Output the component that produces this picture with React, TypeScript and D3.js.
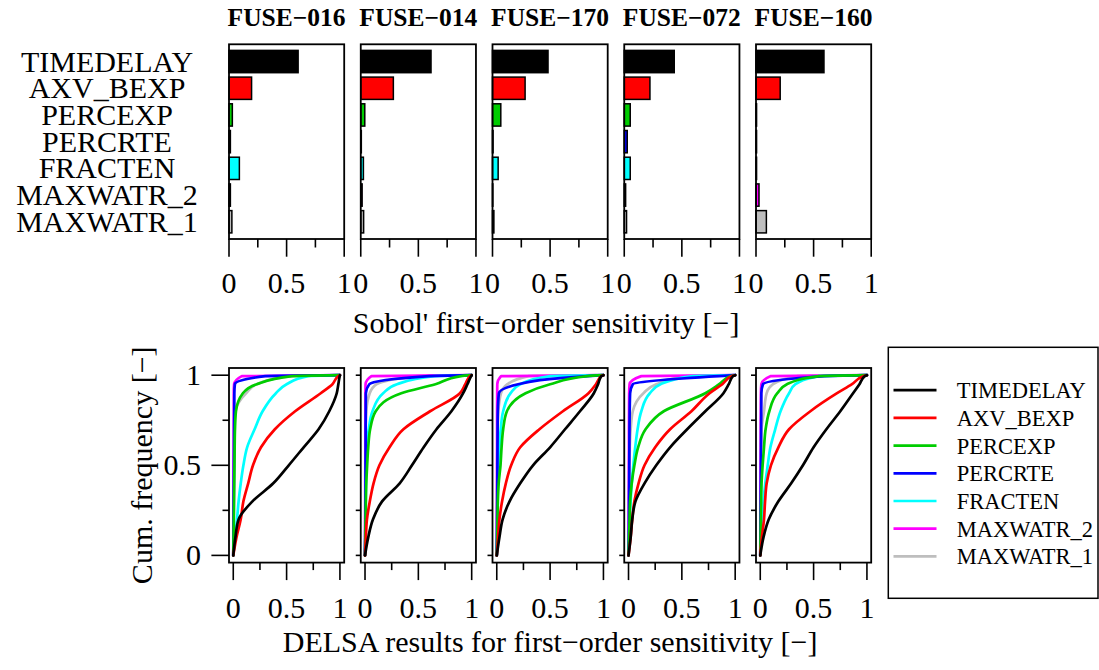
import React from "react";
import * as d3 from "d3";

const PARAMS = ["TIMEDELAY", "AXV_BEXP", "PERCEXP", "PERCRTE", "FRACTEN", "MAXWATR_2", "MAXWATR_1"];
const COLORS = ["#000000", "#FF0000", "#00CD00", "#0000FF", "#00FFFF", "#FF00FF", "#BEBEBE"];
const CATCHMENTS = ["FUSE−016", "FUSE−014", "FUSE−170", "FUSE−072", "FUSE−160"];

// Sobol' first-order indices per catchment (order of PARAMS)
const SOBOL_016 = [0.6, 0.196, 0.029, 0.012, 0.09, 0.012, 0.025];
const SOBOL_014 = [0.61, 0.283, 0.035, 0.005, 0.023, 0.012, 0.025];
const SOBOL_170 = [0.482, 0.283, 0.072, 0.005, 0.049, 0.003, 0.012];
const SOBOL_072 = [0.434, 0.223, 0.052, 0.026, 0.052, 0.012, 0.02];
const SOBOL_160 = [0.59, 0.21, 0.005, 0.005, 0.005, 0.026, 0.09];
const SOBOL = [SOBOL_016, SOBOL_014, SOBOL_170, SOBOL_072, SOBOL_160];

// cumulative frequency levels; each DELSA row gives the sensitivity value reached at those levels
const CDF_LEVELS = [0, 0.1, 0.2, 0.3, 0.4, 0.5, 0.6, 0.7, 0.8, 0.9, 0.95, 0.995, 1];

const DELSA_016 = [
  [0, 0.02, 0.05, 0.18, 0.375, 0.52, 0.66, 0.8, 0.9, 0.97, 0.985, 0.998, 1],
  [0, 0.03, 0.07, 0.095, 0.14, 0.185, 0.26, 0.39, 0.58, 0.82, 0.93, 0.985, 1],
  [0, 0.003, 0.005, 0.007, 0.009, 0.011, 0.013, 0.016, 0.025, 0.09, 0.22, 0.55, 1],
  [0, 0.002, 0.003, 0.004, 0.005, 0.006, 0.007, 0.008, 0.009, 0.01, 0.015, 0.3, 1],
  [0, 0.017, 0.035, 0.05, 0.07, 0.095, 0.13, 0.2, 0.275, 0.4, 0.5, 0.7, 1],
  [0, 0.001, 0.002, 0.002, 0.003, 0.003, 0.004, 0.004, 0.005, 0.005, 0.008, 0.08, 1],
  [0, 0.003, 0.005, 0.006, 0.007, 0.008, 0.009, 0.01, 0.02, 0.12, 0.22, 0.55, 1],
];
const DELSA_014 = [
  [0, 0.03, 0.075, 0.16, 0.325, 0.44, 0.55, 0.67, 0.81, 0.92, 0.96, 0.995, 1],
  [0, 0.008, 0.018, 0.045, 0.08, 0.135, 0.23, 0.36, 0.61, 0.89, 0.94, 0.985, 1],
  [0, 0.003, 0.005, 0.008, 0.012, 0.02, 0.03, 0.048, 0.1, 0.34, 0.66, 0.9, 1],
  [0, 0.002, 0.003, 0.004, 0.005, 0.005, 0.006, 0.006, 0.007, 0.008, 0.04, 0.6, 1],
  [0, 0.002, 0.004, 0.006, 0.008, 0.01, 0.015, 0.035, 0.07, 0.17, 0.3, 0.65, 1],
  [0, 0.001, 0.001, 0.002, 0.002, 0.003, 0.003, 0.003, 0.004, 0.004, 0.005, 0.06, 1],
  [0, 0.002, 0.003, 0.004, 0.004, 0.005, 0.005, 0.006, 0.012, 0.044, 0.11, 0.5, 1],
];
const DELSA_170 = [
  [0, 0.025, 0.055, 0.12, 0.22, 0.34, 0.5, 0.64, 0.78, 0.91, 0.95, 0.98, 1],
  [0, 0.012, 0.025, 0.05, 0.085, 0.135, 0.22, 0.4, 0.62, 0.86, 0.93, 0.98, 1],
  [0, 0.004, 0.007, 0.01, 0.018, 0.035, 0.045, 0.06, 0.095, 0.27, 0.5, 0.85, 1],
  [0, 0.002, 0.003, 0.004, 0.005, 0.006, 0.007, 0.008, 0.01, 0.02, 0.2, 0.85, 1],
  [0, 0.003, 0.005, 0.007, 0.01, 0.015, 0.025, 0.037, 0.06, 0.13, 0.22, 0.5, 1],
  [0, 0.001, 0.001, 0.002, 0.002, 0.002, 0.003, 0.003, 0.003, 0.004, 0.005, 0.04, 1],
  [0, 0.002, 0.003, 0.004, 0.005, 0.006, 0.007, 0.009, 0.015, 0.04, 0.1, 0.3, 1],
];
const DELSA_072 = [
  [0, 0.02, 0.035, 0.065, 0.15, 0.26, 0.39, 0.55, 0.72, 0.89, 0.94, 0.98, 1],
  [0, 0.02, 0.035, 0.055, 0.094, 0.15, 0.25, 0.39, 0.59, 0.76, 0.88, 0.97, 1],
  [0, 0.005, 0.01, 0.015, 0.03, 0.055, 0.09, 0.16, 0.33, 0.72, 0.85, 0.96, 1],
  [0, 0.003, 0.004, 0.005, 0.006, 0.007, 0.008, 0.009, 0.011, 0.015, 0.04, 0.85, 1],
  [0, 0.005, 0.01, 0.02, 0.03, 0.045, 0.063, 0.085, 0.12, 0.2, 0.3, 0.6, 1],
  [0, 0.001, 0.002, 0.002, 0.003, 0.003, 0.004, 0.004, 0.005, 0.006, 0.01, 0.12, 1],
  [0, 0.003, 0.005, 0.006, 0.007, 0.009, 0.012, 0.02, 0.04, 0.14, 0.26, 0.55, 1],
];
const DELSA_160 = [
  [0, 0.03, 0.08, 0.17, 0.29, 0.4, 0.5, 0.62, 0.75, 0.87, 0.93, 0.98, 1],
  [0, 0.015, 0.035, 0.045, 0.06, 0.1, 0.17, 0.27, 0.47, 0.72, 0.86, 0.97, 1],
  [0, 0.003, 0.005, 0.008, 0.012, 0.022, 0.035, 0.05, 0.085, 0.16, 0.25, 0.55, 1],
  [0, 0.002, 0.003, 0.004, 0.005, 0.006, 0.007, 0.008, 0.009, 0.01, 0.025, 0.6, 1],
  [0, 0.01, 0.02, 0.03, 0.047, 0.07, 0.095, 0.14, 0.19, 0.27, 0.33, 0.55, 1],
  [0, 0.001, 0.002, 0.002, 0.003, 0.003, 0.004, 0.004, 0.005, 0.006, 0.01, 0.1, 1],
  [0, 0.002, 0.003, 0.004, 0.005, 0.006, 0.008, 0.012, 0.035, 0.06, 0.12, 0.35, 1],
];
const DELSA = [DELSA_016, DELSA_014, DELSA_170, DELSA_072, DELSA_160];

const X_TICKS = [0, 0.25, 0.5, 0.75, 1];
const X_LABELS = [0, 0.5, 1];

const FONT = "'Liberation Serif', 'Times New Roman', serif";

const W = 1099;
const H = 670;
const PANEL_LEFT = 229;
const PANEL_STEP = 131.75;
const PANEL_W = 115.2;
const TOP_T = 44.3;
const TOP_B = 239;
const BOT_T = 368;
const BOT_B = 562.6;

const fmt = (v: number) => (v === 0 ? "0" : v === 1 ? "1" : String(v));

function TopPanel({ idx }: { idx: number }) {
  const left = PANEL_LEFT + idx * PANEL_STEP;
  const x = d3.scaleLinear().domain([0, 1]).range([left, left + PANEL_W]);
  const y = d3
    .scaleBand<string>()
    .domain(PARAMS)
    .range([TOP_T, TOP_B])
    .paddingInner(0.165)
    .paddingOuter(0.228);
  const vals = SOBOL[idx];
  return (
    <g>
      <text
        x={left + PANEL_W / 2}
        y={26}
        textAnchor="middle"
        fontFamily={FONT}
        fontWeight="bold"
        fontSize={25.5}
      >
        {CATCHMENTS[idx]}
      </text>
      {PARAMS.map((p, i) => (
        <rect
          key={p}
          x={x(0)}
          y={y(p)!}
          width={Math.max(0, x(vals[i]) - x(0))}
          height={y.bandwidth()}
          fill={COLORS[i]}
          stroke="#000"
          strokeWidth={1.5}
        />
      ))}
      <rect
        x={left}
        y={TOP_T}
        width={PANEL_W}
        height={TOP_B - TOP_T}
        fill="none"
        stroke="#000"
        strokeWidth={1.8}
      />
      {X_TICKS.map((t) => {
        const major = X_LABELS.includes(t);
        return (
          <line
            key={t}
            x1={x(t)}
            x2={x(t)}
            y1={TOP_B}
            y2={TOP_B + (major ? 17.7 : 8.5)}
            stroke="#000"
            strokeWidth={1.6}
          />
        );
      })}
      {X_LABELS.map((t) => (
        <text key={t} x={x(t)} y={293.3} textAnchor="middle" fontFamily={FONT} fontSize={30}>
          {fmt(t)}
        </text>
      ))}
    </g>
  );
}

function BottomPanel({ idx }: { idx: number }) {
  const left = PANEL_LEFT + idx * PANEL_STEP;
  const x = d3.scaleLinear().domain([-0.04, 1.04]).range([left, left + PANEL_W]);
  const y = d3.scaleLinear().domain([-0.04, 1.04]).range([BOT_B, BOT_T]);
  const line = d3
    .line<number>()
    .x((d) => x(d))
    .y((_d, i) => y(CDF_LEVELS[i]))
    .curve(d3.curveMonotoneY);
  const curves = DELSA[idx];
  const order = PARAMS.map((_p, i) => i).reverse();
  return (
    <g>
      {order.map((i) => (
        <path
          key={PARAMS[i]}
          d={line(curves[i]) || ""}
          fill="none"
          stroke={COLORS[i]}
          strokeWidth={2.7}
          strokeLinejoin="round"
          strokeLinecap="round"
        />
      ))}
      <rect
        x={left}
        y={BOT_T}
        width={PANEL_W}
        height={BOT_B - BOT_T}
        fill="none"
        stroke="#000"
        strokeWidth={1.8}
      />
      {X_TICKS.map((t) => {
        const major = X_LABELS.includes(t);
        return (
          <line
            key={"x" + t}
            x1={x(t)}
            x2={x(t)}
            y1={BOT_B}
            y2={BOT_B + (major ? 17.5 : 7.5)}
            stroke="#000"
            strokeWidth={1.6}
          />
        );
      })}
      {X_LABELS.map((t) => (
        <text key={"xl" + t} x={x(t)} y={618.3} textAnchor="middle" fontFamily={FONT} fontSize={30}>
          {fmt(t)}
        </text>
      ))}
      {X_TICKS.map((t) => {
        const major = X_LABELS.includes(t);
        const len = idx === 0 ? (major ? 17.6 : 6.5) : 5;
        return (
          <line
            key={"y" + t}
            x1={left - len}
            x2={left}
            y1={y(t)}
            y2={y(t)}
            stroke="#000"
            strokeWidth={1.6}
          />
        );
      })}
      {idx === 0 &&
        X_LABELS.map((t) => (
          <text
            key={"yl" + t}
            x={201}
            y={y(t) + 10}
            textAnchor="end"
            fontFamily={FONT}
            fontSize={30}
          >
            {fmt(t)}
          </text>
        ))}
    </g>
  );
}

function Legend() {
  const x0 = 888.3;
  const y0 = 347.3;
  const ly = d3.scaleLinear().domain([0, 1]).range([390.2, 417.9]);
  return (
    <g>
      <rect
        x={x0}
        y={y0}
        width={1098 - x0}
        height={598.3 - y0}
        fill="#fff"
        stroke="#000"
        strokeWidth={1.5}
      />
      {PARAMS.map((p, i) => (
        <g key={p}>
          <line x1={893.5} x2={936.5} y1={ly(i)} y2={ly(i)} stroke={COLORS[i]} strokeWidth={2.7} />
          <text x={956.7} y={ly(i) + 8} fontFamily={FONT} fontSize={22.5}>
            {p}
          </text>
        </g>
      ))}
    </g>
  );
}

export default function App() {
  const yBand = d3
    .scaleBand<string>()
    .domain(PARAMS)
    .range([TOP_T, TOP_B])
    .paddingInner(0.165)
    .paddingOuter(0.228);
  const centerX = PANEL_LEFT + (4 * PANEL_STEP + PANEL_W) / 2;
  return (
    <svg
      width={W}
      height={H}
      viewBox={`0 0 ${W} ${H}`}
      style={{ position: "fixed", left: 0, top: 0, background: "#fff" }}
    >
      <rect x={0} y={0} width={W} height={H} fill="#fff" />
      {PARAMS.map((p) => (
        <text
          key={p}
          x={107}
          y={yBand(p)! + yBand.bandwidth() / 2 + 10}
          textAnchor="middle"
          fontFamily={FONT}
          fontSize={30}
        >
          {p}
        </text>
      ))}
      {CATCHMENTS.map((c, i) => (
        <TopPanel key={c} idx={i} />
      ))}
      <text x={centerX - 4} y={333} textAnchor="middle" fontFamily={FONT} fontSize={30}>
        Sobol' first−order sensitivity [−]
      </text>
      {CATCHMENTS.map((c, i) => (
        <BottomPanel key={c} idx={i} />
      ))}
      <text
        transform={`translate(152,${(BOT_T + BOT_B) / 2}) rotate(-90)`}
        textAnchor="middle"
        fontFamily={FONT}
        fontSize={30}
      >
        Cum. frequency [−]
      </text>
      <text x={centerX} y={652} textAnchor="middle" fontFamily={FONT} fontSize={30}>
        DELSA results for first−order sensitivity [−]
      </text>
      <Legend />
    </svg>
  );
}
